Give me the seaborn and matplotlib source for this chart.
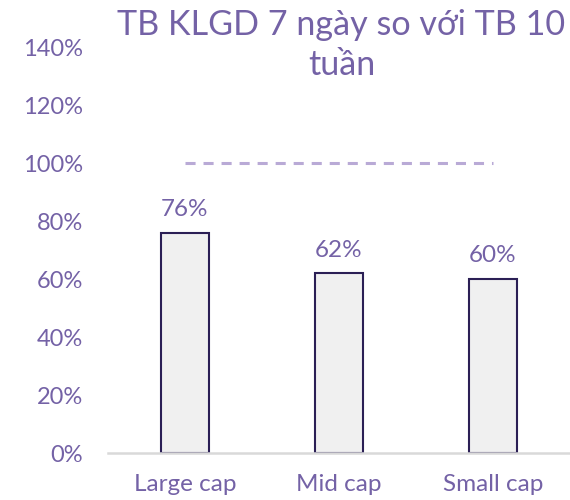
import matplotlib
matplotlib.use("Agg")
import matplotlib.pyplot as plt
import seaborn as sns
import pandas as pd
import numpy as np

# ---------------- DATA ----------------
categories = ["Large cap", "Mid cap", "Small cap"]
values = [76, 62, 60]
bar_labels = ["76%", "62%", "60%"]
reference_level = 100
y_ticks = [0, 20, 40, 60, 80, 100, 120, 140]
title_lines = ["TB KLGD 7 ngày so với TB 10", "tuần"]

TEXT = "#7462a6"
EDGE = "#2b1f55"
FILL = "#f0f0f0"
DASH = "#b9aad6"

sns.set_style("white")
plt.rcParams["font.family"] = ["Lato", "DejaVu Sans"]

df = pd.DataFrame({"cat": categories, "val": values})

fig = plt.figure(figsize=(5.7, 5.0), dpi=100)
ax = fig.add_axes([0.189, 0.094, 0.811, 0.812])

sns.barplot(data=df, x="cat", y="val", color=FILL, width=0.31,
            edgecolor=EDGE, linewidth=1.5, saturation=1, ax=ax)

# reference dashed line at 100%
ax.plot([0, len(categories) - 1], [reference_level, reference_level],
        color=DASH, lw=2.2, dashes=(3.3, 2.6), solid_capstyle="butt")

for i, (v, lab) in enumerate(zip(values, bar_labels)):
    ax.annotate(lab, (i, v), xytext=(0, 9), textcoords="offset points",
                ha="center", va="bottom", fontsize=17.5, color=TEXT)

ax.set_ylim(0, 140)
ax.set_xlim(-0.5, 2.5)
ax.set_yticks(y_ticks)
ax.set_yticklabels([f"{t}%" for t in y_ticks])
ax.set_xlabel("")
ax.set_ylabel("")

for s in ["top", "right", "left"]:
    ax.spines[s].set_visible(False)
ax.spines["bottom"].set_color("#d9d9d9")
ax.spines["bottom"].set_linewidth(1.8)

ax.tick_params(axis="y", length=0, labelsize=17, labelcolor=TEXT, pad=18)
ax.tick_params(axis="x", length=0, labelsize=17.5, labelcolor=TEXT, pad=15)

# title, two lines
fig.text(0.599, 0.930, title_lines[0], ha="center", va="baseline",
         fontsize=24.6, color=TEXT)
fig.text(0.599, 0.850, title_lines[1], ha="center", va="baseline",
         fontsize=24.6, color=TEXT)

fig.savefig("out.png", dpi=100)
